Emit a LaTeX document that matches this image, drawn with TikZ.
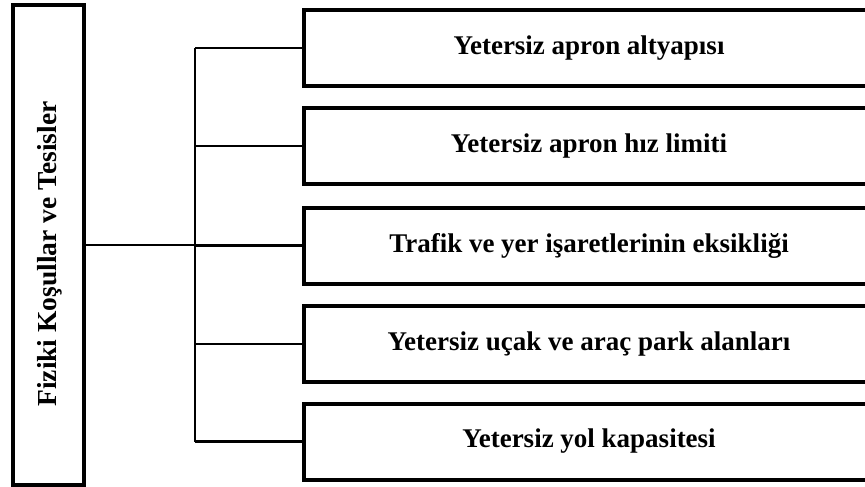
\documentclass[tikz,border=0pt]{standalone}
\usepackage{fontspec}
\setmainfont{Liberation Serif}
\begin{document}
\begin{tikzpicture}[x=1pt,y=-1pt,
  box/.style={draw, line width=4pt, inner sep=0pt, align=center,
    font=\fontsize{27}{30}\selectfont\bfseries},
  item/.style={box, minimum width=570pt, minimum height=76pt},
  conn/.style={line width=2.6pt}]
  \useasboundingbox (0,0) rectangle (865,487);
  \clip (0,0) rectangle (865,487);

  % main category, written upwards
  \node[box, minimum width=71pt, minimum height=480pt] (main) at (48.5,245) {};
  \node[font=\fontsize{27.5}{30}\selectfont\bfseries, rotate=90] (mainlabel) at (50,254)
    {Fiziki Koşullar ve Tesisler};

  % sub-items, open towards the right edge
  \node[item] (b1) at (589,48)    {Yetersiz apron altyapısı};
  \node[item] (b2) at (589,146)   {Yetersiz apron hız limiti};
  \node[item] (b3) at (589,245.5) {Trafik ve yer işaretlerinin eksikliği};
  \node[item] (b4) at (589,344)   {Yetersiz uçak ve araç park alanları};
  \node[item] (b5) at (589,441.5) {Yetersiz yol kapasitesi};

  % bracket connecting the category to its items
  \coordinate (sp) at (195,0);
  \draw[conn] (b1.west -| sp) -- (b5.west -| sp);
  \draw[conn] (main.east) -- (main.east -| sp);
  \foreach \i in {1,...,5}
    \draw[conn] (b\i.west -| sp) -- (b\i.west);
\end{tikzpicture}
\end{document}
